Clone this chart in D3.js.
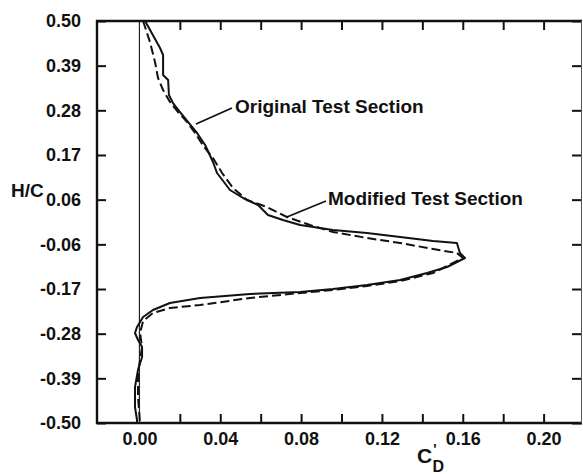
<!DOCTYPE html>
<html>
<head>
<meta charset="utf-8">
<script src="https://cdn.jsdelivr.net/npm/d3@7"></script>
<style>
  body { margin: 0; background: #fff; }
  svg { display: block; }
  text { font-family: "Liberation Sans", Arial, Helvetica, sans-serif; font-weight: bold; fill: #111; }
  .tick text { font-size: 18px; }
  .axis path { display: none; }
  .axis line { stroke: #111; stroke-width: 2; }
</style>
</head>
<body>
<svg id="chart" width="583" height="474"></svg>
<script>

// tick values and labels
var xTicks = [0.02, 0.04, 0.06, 0.08, 0.10, 0.12, 0.14, 0.16, 0.18, 0.20];
var xLabelValues = [0.00, 0.04, 0.08, 0.12, 0.16, 0.20];
var xLabels = ["0.00", "0.04", "0.08", "0.12", "0.16", "0.20"];
var yTicks = [0.5, 0.3889, 0.2778, 0.1667, 0.0556, -0.0556, -0.1667, -0.2778, -0.3889, -0.5];
var yLabels = ["0.50", "0.39", "0.28", "0.17", "0.06", "-0.06", "-0.17", "-0.28", "-0.39", "-0.50"];

// Original Test Section (solid): C'D, H/C
var origCD = [0.0028, 0.0102, 0.0117, 0.0117, 0.0142, 0.0146, 0.0166, 0.0201, 0.0240, 0.0285,
  0.0325, 0.0364, 0.0384, 0.0448, 0.0513, 0.0587, 0.0636, 0.0710, 0.0795,
  0.0958, 0.1126, 0.1290, 0.1453, 0.1571, 0.1586, 0.1611, 0.1522, 0.1423, 0.1290,
  0.1126, 0.0958, 0.0795, 0.0547, 0.0300, 0.0151, 0.0067, 0.0018, -0.0012, -0.0022,
  -0.0007, 0.0013, 0.0013, -0.0007, -0.0022, -0.0022, -0.0012, -0.0012];
var origHC = [0.5, 0.4328, 0.4154, 0.3657, 0.3532, 0.3159, 0.2960, 0.2736, 0.2488, 0.2214,
  0.1915, 0.1493, 0.1219, 0.0796, 0.0597, 0.0423, 0.0174, 0.0050, -0.0075,
  -0.0199, -0.0274, -0.0373, -0.0473, -0.0522, -0.0771, -0.0896, -0.1119, -0.1269, -0.1443,
  -0.1567, -0.1667, -0.1741, -0.1791, -0.1891, -0.2015, -0.2189, -0.2363, -0.2612, -0.2761,
  -0.2935, -0.3109, -0.3358, -0.3682, -0.4104, -0.4602, -0.4925, -0.5];

// Modified Test Section (dashed)
var modCD = [0.0018, 0.0052, 0.0077, 0.0092, 0.0117, 0.0151, 0.0191, 0.0236, 0.0275, 0.0320,
  0.0364, 0.0409, 0.0463, 0.0532, 0.0631, 0.0730, 0.0844, 0.0958, 0.1126, 0.1290,
  0.1453, 0.1571, 0.1601, 0.1453, 0.1290, 0.1126, 0.0958, 0.0795, 0.0547, 0.0300,
  0.0151, 0.0067, 0.0018, 0.0003, 0.0013, -0.0007, -0.0007, 0.0003];
var modHC = [0.5, 0.4478, 0.3980, 0.3582, 0.3284, 0.2985, 0.2736, 0.2488, 0.2214, 0.1866,
  0.1592, 0.1219, 0.0846, 0.0547, 0.0373, 0.0124, -0.0075, -0.0249, -0.0398, -0.0522,
  -0.0672, -0.0771, -0.0896, -0.1269, -0.1468, -0.1592, -0.1692, -0.1766, -0.1891, -0.2065,
  -0.2139, -0.2264, -0.2463, -0.2761, -0.3109, -0.3756, -0.4353, -0.5];

// annotation labels: text anchor and leader line, in data units
var notes = [
  {text: "Original Test Section", tx: 0.0473, ty: 0.2711, x1: 0.0458, y1: 0.2836, x2: 0.0280, y2: 0.2438},
  {text: "Modified Test Section", tx: 0.0933, ty: 0.0423, x1: 0.0923, y1: 0.0522, x2: 0.0730, y2: 0.0124}
];

var svg = d3.select("#chart"),
    margin = {top: 21, right: 1, bottom: 51, left: 97},
    width = +svg.attr("width") - margin.left - margin.right,
    height = +svg.attr("height") - margin.top - margin.bottom;

var x = d3.scaleLinear()
    .domain([-0.021, 0.219])
    .range([0, width]);

var y = d3.scaleLinear()
    .domain([-0.5, 0.5])
    .range([height, 0]);

var g = svg.append("g")
    .attr("transform", "translate(" + margin.left + "," + margin.top + ")");

// zero line
g.append("line")
    .attr("x1", x(0)).attr("x2", x(0))
    .attr("y1", 0).attr("y2", height)
    .attr("stroke", "#222")
    .attr("stroke-width", 1.2);

// ticks, all pointing inward
g.append("g")
    .attr("class", "axis")
    .call(d3.axisLeft(y).tickValues(yTicks).tickSize(-9).tickPadding(16)
      .tickFormat(function(d, i) { return yLabels[i]; }));

g.append("g")
    .attr("class", "axis")
    .attr("transform", "translate(" + width + ",0)")
    .call(d3.axisRight(y).tickValues(yTicks).tickSize(-10).tickFormat(""));

g.append("g")
    .attr("class", "axis")
    .call(d3.axisTop(x).tickValues(xTicks).tickSize(-9).tickFormat(""));

g.append("g")
    .attr("class", "axis")
    .attr("transform", "translate(0," + height + ")")
    .call(d3.axisBottom(x).tickValues(xTicks).tickSize(-9).tickFormat(""));

g.append("g")
    .attr("class", "axis")
    .attr("transform", "translate(0," + height + ")")
    .call(d3.axisBottom(x).tickValues(xLabelValues).tickSize(0).tickPadding(9)
      .tickFormat(function(d, i) { return xLabels[i]; }));

// frame
g.append("path")
    .attr("d", "M" + width + ",0H0V" + height + "H" + width)
    .attr("fill", "none")
    .attr("stroke", "#111")
    .attr("stroke-width", 2.4);
g.append("line")
    .attr("x1", width - 0.5).attr("x2", width - 0.5)
    .attr("y1", 0).attr("y2", height)
    .attr("stroke", "#555")
    .attr("stroke-width", 1);

// curves
var line = d3.line()
    .x(function(d) { return x(d[0]); })
    .y(function(d) { return y(d[1]); });

g.append("path")
    .datum(d3.zip(origCD, origHC))
    .attr("d", line)
    .attr("fill", "none")
    .attr("stroke", "#111")
    .attr("stroke-width", 2)
    .attr("stroke-linejoin", "round");

g.append("path")
    .datum(d3.zip(modCD, modHC))
    .attr("d", line)
    .attr("fill", "none")
    .attr("stroke", "#111")
    .attr("stroke-width", 2)
    .attr("stroke-dasharray", "9,4");

// annotations
var note = g.selectAll(".note")
  .data(notes)
  .enter().append("g")
    .attr("class", "note");

note.append("line")
    .attr("x1", function(d) { return x(d.x1); })
    .attr("y1", function(d) { return y(d.y1); })
    .attr("x2", function(d) { return x(d.x2); })
    .attr("y2", function(d) { return y(d.y2); })
    .attr("stroke", "#111")
    .attr("stroke-width", 1.8);

note.append("text")
    .attr("x", function(d) { return x(d.tx); })
    .attr("y", function(d) { return y(d.ty); })
    .attr("font-size", 19)
    .text(function(d) { return d.text; });

// axis titles
svg.append("text")
    .attr("x", 11)
    .attr("y", 197)
    .attr("font-size", 19)
    .text("H/C");

var xt = svg.append("text")
    .attr("x", 417)
    .attr("y", 463)
    .attr("font-size", 21);
xt.append("tspan").text("C");
xt.append("tspan").attr("font-size", 14).attr("dx", 1).attr("dy", -9).text("'");
xt.append("tspan").attr("font-size", 16).attr("dx", -4).attr("dy", 18).text("D");

</script>
</body>
</html>
